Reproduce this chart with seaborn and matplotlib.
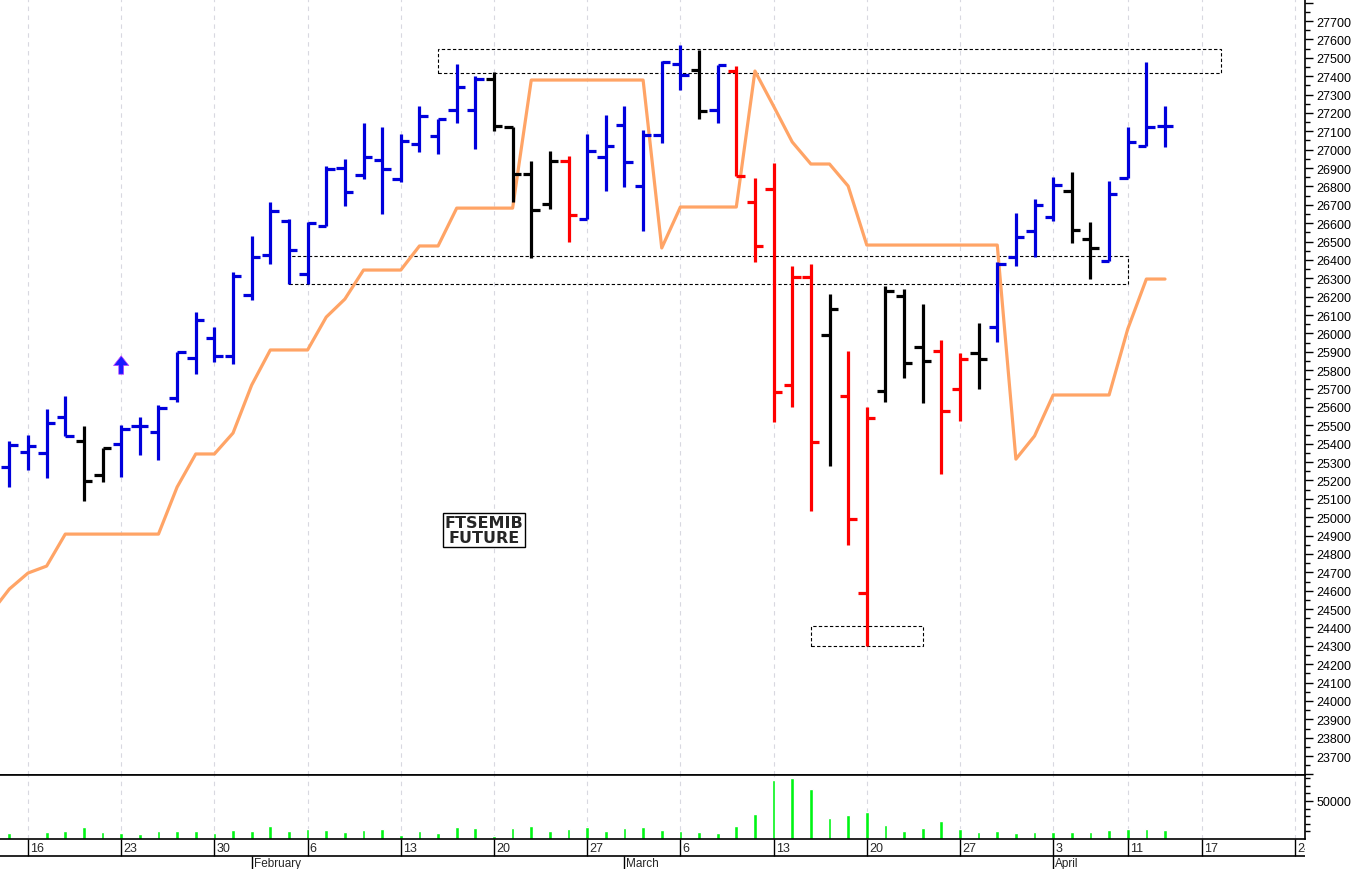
import matplotlib
matplotlib.use('Agg')
import matplotlib.pyplot as plt
from matplotlib.patches import Rectangle
import seaborn as sns
import numpy as np
import pandas as pd

sns.set_style('white')
plt.rcParams['font.family'] = ['Liberation Sans', 'DejaVu Sans']

# trading calendar (Borsa closed 7 and 10 April)
trading_days = pd.bdate_range('2023-01-12', '2023-04-28')
trading_days = trading_days.drop(pd.to_datetime(['2023-04-07', '2023-04-10']))

# daily bars from 13 Jan to 13 Apr
bar_start = '2023-01-13'
bar_open = [25273, 25353, 25349, 25547, 25413, 25229, 25398, 25498, 25462, 25648,
            25864, 25973, 25875, 26211, 26427, 26613, 26322, 26586, 26900, 26862,
            26944, 26840, 27031, 27073, 27216, 27216, 27384, 27121, 26867, 26704,
            26936, 26622, 26961, 27134, 26804, 27080, 27466, 27435, 27217, 27430,
            26717, 26786, 25719, 26308, 25991, 25658, 24586, 25685, 26205, 25924,
            25904, 25697, 25893, 26036, 26414, 26556, 26632, 26773, 26514, 26396,
            26844, 27021, 27130]
bar_high = [25416, 25449, 25589, 25661, 25498, 25375, 25503, 25543, 25610, 25900,
            26118, 26033, 26336, 26532, 26713, 26622, 26604, 26913, 26949, 27143,
            27125, 27085, 27239, 27167, 27466, 27402, 27421, 27125, 26940, 26994,
            26964, 27085, 27190, 27239, 27108, 27481, 27571, 27542, 27462, 27457,
            26844, 26926, 26368, 26378, 26214, 25906, 25598, 26260, 26242, 26160,
            25962, 25893, 26055, 26387, 26653, 26731, 26849, 26877, 26608, 26831,
            27125, 27475, 27239]
bar_low = [25164, 25258, 25213, 25443, 25089, 25190, 25217, 25338, 25311, 25628,
           25779, 25846, 25833, 26183, 26378, 26269, 26269, 26583, 26695, 26840,
           26650, 26822, 26985, 26976, 27145, 27003, 27103, 26713, 26410, 26677,
           26496, 26622, 26777, 26795, 26556, 27036, 27326, 27167, 27145, 26858,
           26387, 25516, 25601, 25033, 25277, 24850, 24300, 25628, 25755, 25621,
           25233, 25525, 25697, 25955, 26368, 26414, 26613, 26492, 26296, 26396,
           26844, 27018, 27016]
bar_close = [25394, 25389, 25512, 25443, 25198, 25375, 25480, 25498, 25592, 25900,
             26073, 25875, 26311, 26414, 26664, 26454, 26601, 26895, 26768, 26958,
             26895, 27049, 27185, 27167, 27339, 27384, 27130, 26867, 26671, 26940,
             26644, 26991, 27018, 26931, 27080, 27475, 27406, 27212, 27461, 26858,
             26474, 25679, 26308, 25407, 26131, 24988, 25538, 26229, 25837, 25850,
             25579, 25859, 25859, 26378, 26523, 26700, 26808, 26563, 26463, 26759,
             27040, 27121, 27127]
bar_color = list('bbbbkkbbbbbbbbbbbbbbbbbbbbkkkkrbbbbbbkbrrrrrkrrkkkrrkbbbbkkbbbb')
volume = [7500, 900, 9700, 10600, 15500, 8800, 7500, 6600, 10200, 10600,
          11100, 8400, 11500, 10600, 16800, 11100, 12800, 12400, 8800, 12400,
          12800, 4900, 10200, 8000, 15500, 14200, 4000, 14200, 17700, 10200,
          12800, 15500, 11100, 14600, 15500, 12400, 10600, 9300, 7500, 16800,
          33200, 77000, 79600, 65000, 27900, 31900, 35400, 18600, 11100, 14200,
          23500, 12800, 8800, 10600, 8000, 8800, 9300, 9300, 8800, 11500,
          13300, 12800, 11500]

# orange trailing line, from 12 Jan
stop_start = '2023-01-12'
stop_line = [24478, 24609, 24696, 24734, 24908, 24908, 24908, 24908, 24908, 24908,
             25164, 25344, 25344, 25458, 25719, 25910, 25910, 25910, 26089, 26187,
             26345, 26345, 26345, 26476, 26476, 26682, 26682, 26682, 26682, 27379,
             27379, 27379, 27379, 27379, 27379, 27379, 26465, 26688, 26688, 26688,
             26688, 27428, 27237, 27042, 26922, 26922, 26802, 26481, 26481, 26481,
             26481, 26481, 26481, 26481, 26481, 25316, 25442, 25665, 25665, 25665,
             25665, 26024, 26296, 26296]

# dashed zones: start date, end date, low, high
zone_start = ['2023-02-15', '2023-02-03', '2023-03-15']
zone_end = ['2023-04-18', '2023-04-11', '2023-03-23']
zone_low = [27420, 26270, 24300]
zone_high = [27550, 26420, 24410]

signal_date = '2023-01-23'
signal_low, signal_high = 25778, 25878

colors = {'b': '#0000dc', 'k': '#000000', 'r': '#ff0000'}

def pos(d):
    return trading_days.get_loc(pd.Timestamp(d))

x_bar = np.arange(len(bar_open)) + pos(bar_start)
x_stop = np.arange(len(stop_line)) + pos(stop_start)
cols = [colors[c] for c in bar_color]

iso_week = trading_days.isocalendar().week.values
week_pos = [i for i in range(1, len(trading_days)) if iso_week[i] != iso_week[i - 1]]
month_pos = [i for i in range(1, len(trading_days))
             if trading_days[i].month != trading_days[i - 1].month]

W, H = 1352, 870
def rect(x0, y0, x1, y1):
    return [x0 / W, 1 - y1 / H, (x1 - x0) / W, (y1 - y0) / H]

fig = plt.figure(figsize=(13.52, 8.70), dpi=100)
ax = fig.add_axes(rect(0, 0, 1305, 776))
axv = fig.add_axes(rect(0, 776, 1305, 840))
axd = fig.add_axes(rect(0, 840, 1305, 870))
xlim = (0.498, 70.51)

# price panel
sns.lineplot(x=x_stop, y=stop_line, ax=ax, color='#ffa466', linewidth=2.3, legend=False)
ax.vlines(x_bar, bar_low, bar_high, colors=cols, linewidth=2.3)
ax.hlines(bar_open, x_bar - 0.45, x_bar, colors=cols, linewidth=2.3)
ax.hlines(bar_close, x_bar, x_bar + 0.45, colors=cols, linewidth=2.3)

for s, e, lo, hi in zip(zone_start, zone_end, zone_low, zone_high):
    ax.add_patch(Rectangle((pos(s), lo), pos(e) - pos(s), hi - lo, fill=False,
                           edgecolor='black', linewidth=0.8, linestyle=(0, (3, 2))))

ax.annotate('', xy=(pos(signal_date), signal_high), xytext=(pos(signal_date), signal_low),
            arrowprops=dict(facecolor='#1a1aff', edgecolor='#c040ff', width=3.5,
                            headwidth=11, headlength=7, linewidth=0.5))

ax.text(26.46, 24930, 'FTSEMIB\nFUTURE', ha='center', va='center', fontsize=11.5,
        fontweight='bold', family=['DejaVu Sans'], linespacing=1.0,
        bbox=dict(boxstyle='square,pad=0.12', facecolor='white', edgecolor='black', linewidth=1))

ax.set_xlim(*xlim)
ax.set_ylim(23597, 27820)
ax.set_xticks(week_pos)
ax.tick_params(axis='x', length=0, labelbottom=False)
ax.grid(axis='x', color='#d8d8e0', linestyle=(0, (4, 4)), linewidth=0.8)
ax.yaxis.tick_right()
ax.set_yticks(range(23600, 27801, 100))
ax.set_yticklabels([str(v) if 23700 <= v <= 27700 else '' for v in range(23600, 27801, 100)])
ax.set_yticks(range(23650, 27801, 100), minor=True)
ax.tick_params(axis='y', which='major', length=6, width=1, pad=2, labelsize=9, colors='black')
ax.tick_params(axis='y', which='minor', length=3.5, width=1, colors='black')
for side in ['top', 'left']:
    ax.spines[side].set_visible(False)
for side in ['right', 'bottom']:
    ax.spines[side].set_color('black')
    ax.spines[side].set_linewidth(1.2)

# volume panel
axv.bar(x_bar, volume, width=0.2, color='#00f514')
axv.set_xlim(*xlim)
axv.set_ylim(0, 84000)
axv.set_xticks(week_pos)
axv.tick_params(axis='x', length=0, labelbottom=False)
axv.grid(axis='x', color='#d8d8e0', linestyle=(0, (4, 4)), linewidth=0.8)
axv.yaxis.tick_right()
axv.set_yticks([50000])
axv.set_yticks(range(10000, 84000, 10000), minor=True)
axv.tick_params(axis='y', which='major', length=6, width=1, pad=2, labelsize=9, colors='black')
axv.tick_params(axis='y', which='minor', length=3.5, width=1, colors='black')
axv.spines['left'].set_visible(False)
for side in ['right', 'bottom', 'top']:
    axv.spines[side].set_color('black')
    axv.spines[side].set_linewidth(1.2)

# date rows
axd.set_xlim(*xlim)
axd.set_ylim(30, 0)
axd.axis('off')
axd.axhline(17, color='black', linewidth=1.2)
axd.vlines(week_pos, 0, 17, colors='black', linewidth=1)
axd.vlines(month_pos, 17, 30, colors='black', linewidth=1)
for p in week_pos:
    axd.text(p + 0.12, 8.8, str(trading_days[p].day), ha='left', va='center',
             fontsize=9, clip_on=True)
for p in month_pos:
    axd.text(p + 0.1, 24.5, trading_days[p].strftime('%B'), ha='left', va='center',
             fontsize=8.5, clip_on=True)

fig.savefig('out.png', dpi=100)
